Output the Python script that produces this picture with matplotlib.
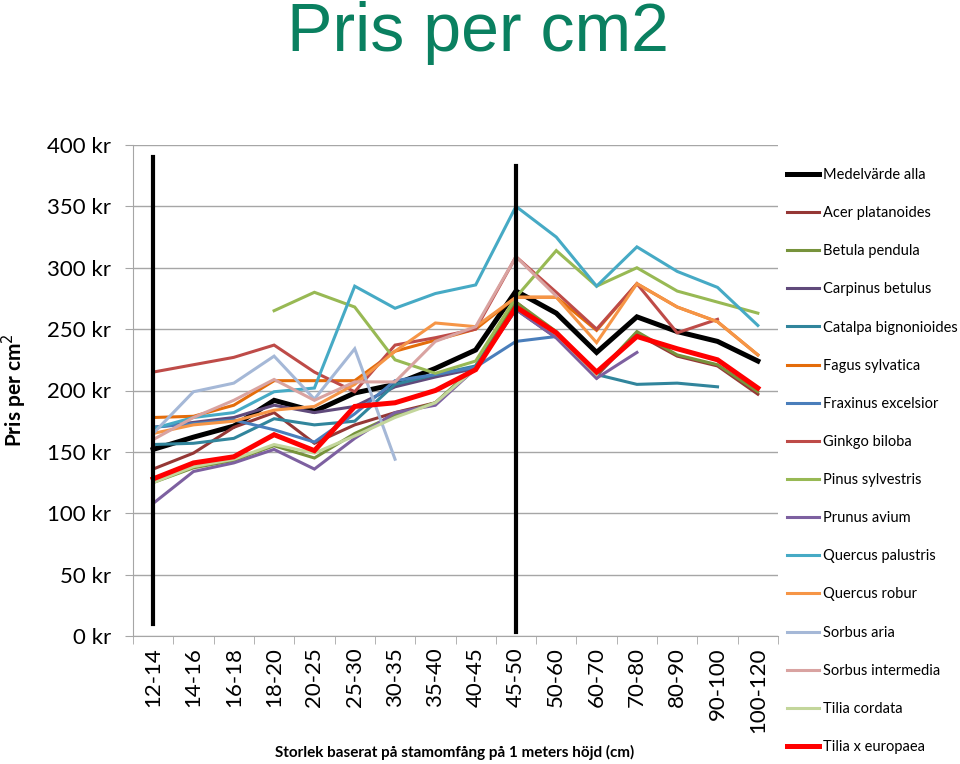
import numpy as np
import matplotlib
matplotlib.use('Agg')
import matplotlib.pyplot as plt

plt.rcParams['font.family'] = ['Lato', 'DejaVu Sans']

nan = np.nan

categories = ['12-14', '14-16', '16-18', '18-20', '20-25', '25-30', '30-35', '35-40',
              '40-45', '45-50', '50-60', '60-70', '70-80', '80-90', '90-100', '100-120']

medel = [152, 162, 171, 192, 183, 198, 205, 218, 233, 281, 263, 231, 260, 248, 240, 224]
acer = [136, 149, 170, 182, 157, 172, 182, 190, 218, 272, 246, 212, 246, 228, 220, 197]
betula = [125, 137, 143, 155, 145, 165, 180, 190, 220, 272, 248, 213, 248, 229, 221, 199]
carpinus = [170, 174, 178, 188, 182, 187, 203, 211, 218, 266, 243, 210, nan, nan, nan, nan]
catalpa = [156, 157, 161, 177, 172, 175, 205, 213, 220, 268, 245, 213, 205, 206, 203, nan]
fagus = [178, 179, 188, 208, 208, 208, 232, 241, 250, 276, 276, 249, 287, 268, 256, 229]
fraxinus = [170, 173, 176, 168, 158, 181, 208, 213, 219, 240, 244, nan, nan, nan, nan, nan]
ginkgo = [215, 221, 227, 237, 215, 199, 237, 243, 250, 309, 280, 250, 287, 247, 258, nan]
pinus = [nan, nan, nan, 265, 280, 268, 225, 214, 224, 276, 314, 285, 300, 281, 272, 263]
prunus = [108, 134, 141, 152, 136, 161, 182, 188, 218, 266, 243, 210, 231, nan, nan, nan]
q_palustris = [169, 178, 182, 199, 202, 285, 267, 279, 286, 350, 325, 285, 317, 297, 284, 253]
q_robur = [165, 172, 175, 184, 187, 205, 232, 255, 252, 276, 276, 239, 287, 268, 256, 229]
sorbus_aria = [165, 199, 206, 228, 193, 234, 144, nan, nan, nan, nan, nan, nan, nan, nan, nan]
sorbus_int = [160, 178, 192, 209, 192, 207, 207, 240, 252, 309, 277, nan, nan, nan, nan, nan]
tilia_cordata = [125, 138, 144, 156, 149, 163, 178, 190, 218, 268, 246, 213, nan, nan, nan, nan]
tilia_eu = [128, 141, 146, 164, 151, 187, 190, 200, 217, 268, 247, 215, 244, 234, 225, 202]

series = [
    ('Medelvärde alla', medel, '#000000', 3.6),
    ('Acer platanoides', acer, '#953735', 2.2),
    ('Betula pendula', betula, '#77933C', 2.2),
    ('Carpinus betulus', carpinus, '#604A7B', 2.2),
    ('Catalpa bignonioides', catalpa, '#31859C', 2.2),
    ('Fagus sylvatica', fagus, '#E46C0A', 2.2),
    ('Fraxinus excelsior', fraxinus, '#4A7EBB', 2.2),
    ('Ginkgo biloba', ginkgo, '#BE4B48', 2.2),
    ('Pinus sylvestris', pinus, '#98B954', 2.2),
    ('Prunus avium', prunus, '#7D60A0', 2.2),
    ('Quercus palustris', q_palustris, '#46AAC5', 2.2),
    ('Quercus robur', q_robur, '#F69546', 2.2),
    ('Sorbus aria', sorbus_aria, '#A5B8D7', 2.2),
    ('Sorbus intermedia', sorbus_int, '#D9A3A1', 2.2),
    ('Tilia cordata', tilia_cordata, '#C3D69B', 2.2),
    ('Tilia x europaea', tilia_eu, '#FF0000', 3.6),
]

fig = plt.figure(figsize=(9.6, 7.64), dpi=100)
ax = fig.add_axes([133 / 960, 1 - 636 / 764, (778 - 133) / 960, (636 - 145) / 764])

x = np.arange(len(categories))
handles = []
for name, vals, col, lw in series:
    h, = ax.plot(x, vals, color=col, lw=lw, label=name, solid_joinstyle='miter')
    handles.append(h)

# the two black marker lines drawn on the chart
ax.plot([0, 0], [390, 10], color='black', lw=3, clip_on=False, zorder=5)
ax.plot([9, 9], [383, 3], color='black', lw=3, clip_on=False, zorder=5)

ax.set_xlim(-0.5, len(categories) - 0.5)
ax.set_ylim(0, 400)
ax.set_yticks(range(0, 401, 50))
ax.set_yticklabels([f'{v} kr' for v in range(0, 401, 50)], fontsize=16)
ax.yaxis.grid(True, color='#A6A6A6', lw=1)
ax.set_axisbelow(True)
ax.tick_params(axis='y', length=6, color='#A6A6A6', pad=10)

ax.set_xticks(x)
ax.set_xticklabels(categories, rotation=90, fontsize=16)
ax.set_xticks(np.arange(-0.5, len(categories)), minor=True)
ax.tick_params(axis='x', which='major', length=0, pad=8)
ax.tick_params(axis='x', which='minor', length=6, color='#A6A6A6')

for s in ['top', 'right']:
    ax.spines[s].set_visible(False)
for s in ['left', 'bottom']:
    ax.spines[s].set_color('#A6A6A6')

fig.text(0.498, 1 - 33 / 764, 'Pris per cm2', ha='center', va='center',
         fontsize=49, color='#0A8060', family='Liberation Sans')
fig.text(14 / 960, 1 - 390 / 764, 'Pris per cm$^2$', rotation=90, ha='center', va='center',
         fontsize=15, fontweight='bold')
fig.text(455 / 960, 1 - 752 / 764, 'Storlek baserat på stamomfång på 1 meters höjd (cm)',
         ha='center', va='center', fontsize=11, fontweight='bold')

fig.legend(handles=handles, loc='upper left', bbox_to_anchor=(787 / 960, 1 - 168 / 764),
           frameon=False, fontsize=10.5, handlelength=2.2, handletextpad=0.3,
           labelspacing=1.655, borderaxespad=0, borderpad=0)

fig.savefig('out.png', dpi=100)
